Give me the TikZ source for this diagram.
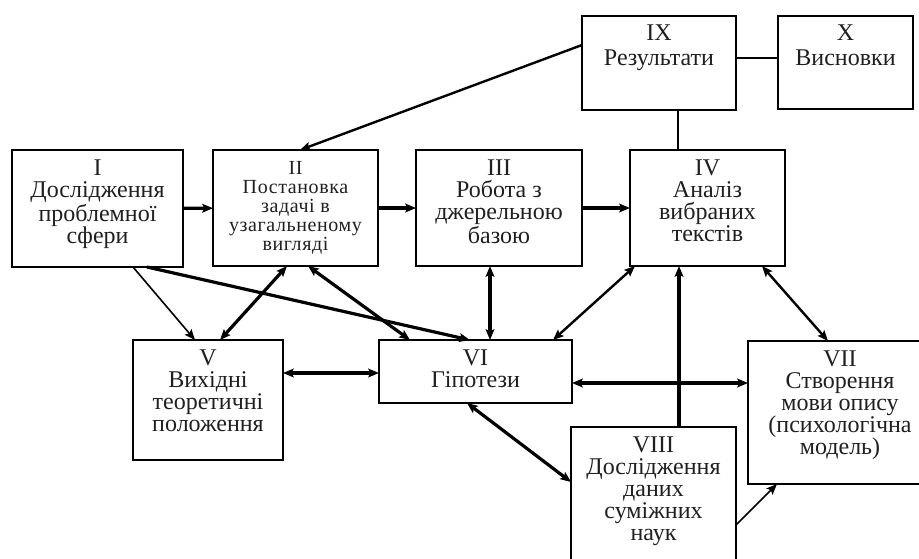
\documentclass[tikz,border=0pt]{standalone}
\usepackage{fontspec}
\setmainfont{Liberation Serif}
\newfontfamily\spacedserif[LetterSpace=3]{Liberation Serif}
\usetikzlibrary{arrows.meta}

\tikzset{
  stage/.style 2 args={draw, line width=1.1pt, inner sep=0pt, outer sep=0pt,
    minimum width=#1*0.75pt, minimum height=#2*0.75pt},
  caption/.style={anchor=north, align=center, inner sep=0pt, text=black!88,
    font=\fontsize{18}{16.5}\selectfont},
  smallcaption/.style={caption, font=\spacedserif\fontsize{15}{14.4}\selectfont},
  topcaption/.style={caption, font=\fontsize{18}{19}\selectfont},
  head/.style={-{Stealth[length=8pt,width=6.5pt,inset=1.5pt]}},
  twohead/.style={{Stealth[length=8pt,width=6.5pt,inset=1.5pt]}-{Stealth[length=8pt,width=6.5pt,inset=1.5pt]}},
  heavy/.style={line width=2.4pt},
  medium/.style={line width=1.8pt},
  light/.style={line width=1.2pt}
}

\begin{document}
\begin{tikzpicture}[x=0.75pt, y=-0.75pt]
  \useasboundingbox (0,0) rectangle (919,558);
  \clip (0,0) rectangle (919,558);

  % stage boxes
  \node[stage={171}{117}] (s1) at (97.5,208.5) {};
  \node[stage={165}{116}] (s2) at (295.5,208) {};
  \node[stage={166}{116}] (s3) at (499,208) {};
  \node[stage={155}{116}] (s4) at (707.5,208) {};
  \node[stage={154}{94}]  (s9) at (659,63) {};
  \node[stage={135}{93}]  (s10) at (845.5,62.5) {};
  \node[stage={150}{120}] (s5) at (208,400) {};
  \node[stage={193}{63}]  (s6) at (475.5,371.5) {};
  \node[stage={184}{143}] (s7) at (840,412.5) {};
  \node[stage={165}{146}] (s8) at (653.5,500) {};

  % stage captions
  \node[caption, yshift=-7.5pt] (t1) at (s1.north) {I\\Дослідження\\проблемної\\сфери};
  \node[smallcaption, yshift=-8pt] (t2) at (s2.north) {II\\Постановка\\задачі в\\узагальненому\\вигляді};
  \node[caption, yshift=-7.5pt] (t3) at (s3.north) {III\\Робота з\\джерельною\\базою};
  \node[caption, yshift=-7.5pt] (t4) at (s4.north) {IV\\Аналіз\\вибраних\\текстів};
  \node[topcaption, yshift=-6.5pt] (t9) at (s9.north) {IX\\Результати};
  \node[topcaption, yshift=-6.5pt] (t10) at (s10.north) {X\\Висновки};
  \node[caption, yshift=-7.5pt] (t5) at (s5.north) {V\\Вихідні\\теоретичні\\положення};
  \node[caption, yshift=-7.5pt] (t6) at (s6.north) {VI\\Гіпотези};
  \node[caption, yshift=-7.5pt] (t7) at (s7.north) {VII\\Створення\\мови опису\\(психологічна\\модель)};
  \node[caption, yshift=-7.5pt] (t8) at (s8.north) {VIII\\Дослідження\\даних\\суміжних\\наук};

  % top row flow
  \draw[heavy, head] (s1) -- (s2);
  \draw[heavy, head] (s2) -- (s3);
  \draw[heavy, head] (s3) -- (s4);

  % links from the top rows down to V and VI
  \draw[light, head] ([xshift=121*0.75pt]s1.south west) -- ([xshift=62*0.75pt]s5.north west);
  \draw[heavy, head] ([xshift=135*0.75pt]s1.south west) -- ([xshift=91*0.75pt]s6.north west);
  \draw[heavy, twohead] ([xshift=87*0.75pt]s5.north west) -- ([xshift=74*0.75pt]s2.south west);
  \draw[heavy, twohead] ([xshift=95*0.75pt]s2.south west) -- ([xshift=31*0.75pt]s6.north west);
  \draw[heavy, twohead] ([xshift=74*0.75pt]s3.south west) -- ([xshift=111*0.75pt]s6.north west);
  \draw[medium, twohead] ([xshift=5*0.75pt]s4.south west) -- ([xshift=174*0.75pt]s6.north west);
  \draw[medium, twohead] ([xshift=132*0.75pt]s4.south west) -- ([xshift=80*0.75pt]s7.north west);

  % middle row
  \draw[heavy, twohead] ([yshift=-33*0.75pt]s5.north east) -- ([yshift=-33*0.75pt]s6.north west);
  \draw[heavy, twohead] ([yshift=-43*0.75pt]s6.north east) -- ([yshift=-42*0.75pt]s7.north west);

  % links of VIII
  \draw[heavy, head] ([xshift=108*0.75pt]s8.north west) -- ([xshift=49*0.75pt]s4.south west);
  \draw[heavy, twohead] ([xshift=88*0.75pt]s6.south west) -- ([yshift=-55*0.75pt]s8.north west);
  \draw[light, head] ([yshift=-98*0.75pt]s8.north east) -- ([xshift=29*0.75pt]s7.south west);

  % results and conclusions
  \draw[medium, head] ([yshift=-29*0.75pt]s9.north west) -- ([xshift=87*0.75pt]s2.north west);
  \draw[line width=1.1pt] ([yshift=-42*0.75pt]s9.north east) -- ([yshift=-42*0.75pt]s10.north west);
  \draw[line width=1.1pt] ([xshift=96*0.75pt]s9.south west) -- ([xshift=48*0.75pt]s4.north west);
\end{tikzpicture}
\end{document}
